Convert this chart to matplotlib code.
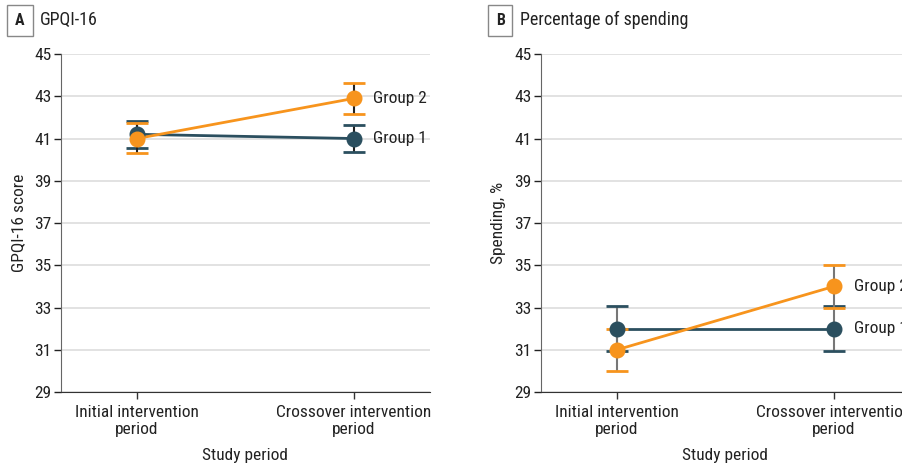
import numpy as np
import matplotlib
matplotlib.use("Agg")
import matplotlib.pyplot as plt
from matplotlib import font_manager

# pick a narrow font if one is installed
names = {f.name for f in font_manager.fontManager.ttflist}
narrow = [n for n in ['Liberation Sans Narrow', 'Roboto Condensed', 'Open Sans Condensed'] if n in names]
plt.rcParams['font.family'] = narrow + ['DejaVu Sans']

periods = ['Initial intervention\nperiod', 'Crossover intervention\nperiod']
groups = ['Group 1', 'Group 2']
yticks = [29, 31, 33, 35, 37, 39, 41, 43, 45]

# Panel A: GPQI-16 score (mean, lower, upper)
gpqi_g1 = [41.2, 41.0]
gpqi_g1_lo = [40.55, 40.35]
gpqi_g1_hi = [41.85, 41.65]
gpqi_g2 = [41.0, 42.9]
gpqi_g2_lo = [40.3, 42.15]
gpqi_g2_hi = [41.75, 43.65]

# Panel B: spending %
spend_g1 = [32.0, 32.0]
spend_g1_lo = [30.95, 30.95]
spend_g1_hi = [33.05, 33.05]
spend_g2 = [31.0, 34.0]
spend_g2_lo = [30.0, 33.0]
spend_g2_hi = [32.0, 35.0]

c1 = '#2b4f5f'
c2 = '#f7941d'

fig = plt.figure(figsize=(9.02, 4.63), dpi=100)
axA = fig.add_axes([0.0676, 0.1533, 0.409, 0.730])
axB = fig.add_axes([0.5998, 0.1533, 0.409, 0.730])


def panel(ax, letter, title, ylabel, series, stem):
    x = np.arange(len(periods))
    for (name, y, lo, hi, col) in series:
        y = np.array(y)
        err = [y - np.array(lo), np.array(hi) - y]
        ax.plot(x, y, color=col, lw=2, zorder=3)
        eb = ax.errorbar(x, y, yerr=err, fmt='none', ecolor=stem, elinewidth=1.5,
                         capsize=8, capthick=2, zorder=4)
        for cap in eb[1]:
            cap.set_markeredgecolor(col)
            cap.set_markerfacecolor(col)
        ax.plot(x, y, 'o', color=col, ms=10.5, zorder=5)
        ax.text(x[-1] + 0.09, y[-1], name, va='center', ha='left', fontsize=12.5,
                color='#222222')
    ax.set_xlim(-0.35, 1.35)
    ax.set_ylim(29, 45)
    ax.set_yticks(yticks)
    ax.set_xticks(x)
    ax.set_xticklabels(periods, fontsize=12.5, color='#222222')
    ax.tick_params(axis='y', labelsize=12.5, colors='#222222', length=5, width=1, pad=2)
    ax.tick_params(axis='x', length=5, width=1, pad=4, color='#333333')
    ax.grid(axis='y', color='#dddddd', lw=1.2)
    ax.set_axisbelow(True)
    for s in ['top', 'right']:
        ax.spines[s].set_visible(False)
    ax.spines['left'].set_color('#666666')
    ax.spines['bottom'].set_color('#333333')
    ax.set_ylabel(ylabel, fontsize=12.5, color='#222222', labelpad=6)
    ax.set_xlabel('Study period', fontsize=12.5, color='#222222', labelpad=8)
    ax.text(-0.111, 1.10, letter, transform=ax.transAxes, fontsize=11.5, fontweight='bold',
            ha='center', va='center', color='#222222',
            bbox=dict(boxstyle='square,pad=0.5', fc='white', ec='#888888', lw=1))
    ax.text(-0.057, 1.10, title, transform=ax.transAxes, fontsize=13,
            ha='left', va='center', color='#222222')


panel(axA, 'A', 'GPQI-16', 'GPQI-16 score',
      [('Group 1', gpqi_g1, gpqi_g1_lo, gpqi_g1_hi, c1),
       ('Group 2', gpqi_g2, gpqi_g2_lo, gpqi_g2_hi, c2)], '#222222')
panel(axB, 'B', 'Percentage of spending', 'Spending, %',
      [('Group 1', spend_g1, spend_g1_lo, spend_g1_hi, c1),
       ('Group 2', spend_g2, spend_g2_lo, spend_g2_hi, c2)], '#777777')

fig.savefig('out.png', dpi=100)
